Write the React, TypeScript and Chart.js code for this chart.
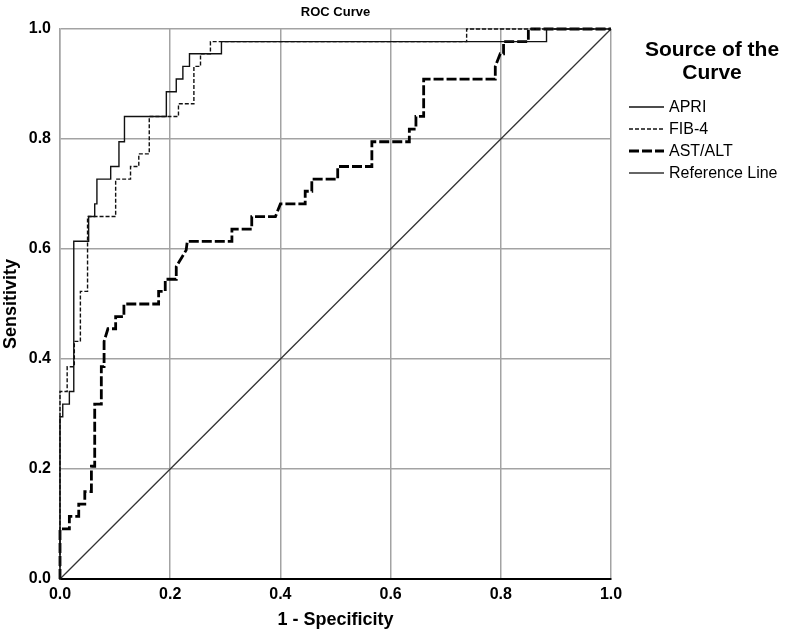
import React, { useEffect, useRef } from "react";
import { Chart, registerables } from "chart.js";

Chart.register(...registerables);

// ROC coordinates (1 - specificity, sensitivity)
const apriFpr = [0, 0, 0.005, 0.005, 0.017, 0.017, 0.025, 0.025, 0.052, 0.052, 0.063, 0.063, 0.067, 0.067, 0.092, 0.092, 0.107, 0.107, 0.117, 0.117, 0.193, 0.193, 0.211, 0.211, 0.223, 0.223, 0.235, 0.235, 0.293, 0.293, 0.883, 0.883, 1];
const apriTpr = [0, 0.295, 0.295, 0.318, 0.318, 0.341, 0.341, 0.614, 0.614, 0.659, 0.659, 0.682, 0.682, 0.727, 0.727, 0.75, 0.75, 0.795, 0.795, 0.841, 0.841, 0.886, 0.886, 0.909, 0.909, 0.932, 0.932, 0.955, 0.955, 0.977, 0.977, 1, 1];

const fib4Fpr = [0, 0, 0.013, 0.013, 0.026, 0.026, 0.037, 0.037, 0.05, 0.05, 0.101, 0.101, 0.128, 0.128, 0.143, 0.143, 0.162, 0.162, 0.215, 0.215, 0.243, 0.243, 0.255, 0.255, 0.273, 0.273, 0.738, 0.738, 1];
const fib4Tpr = [0, 0.341, 0.341, 0.386, 0.386, 0.432, 0.432, 0.523, 0.523, 0.659, 0.659, 0.727, 0.727, 0.75, 0.75, 0.773, 0.773, 0.841, 0.841, 0.864, 0.864, 0.932, 0.932, 0.955, 0.955, 0.977, 0.977, 1, 1];

const astAltFpr = [0, 0, 0.017, 0.017, 0.034, 0.034, 0.045, 0.045, 0.057, 0.057, 0.063, 0.063, 0.075, 0.075, 0.08, 0.08, 0.087, 0.101, 0.101, 0.116, 0.116, 0.179, 0.179, 0.191, 0.191, 0.211, 0.211, 0.229, 0.231, 0.312, 0.312, 0.348, 0.348, 0.391, 0.4, 0.445, 0.445, 0.457, 0.457, 0.504, 0.504, 0.566, 0.566, 0.634, 0.634, 0.646, 0.646, 0.66, 0.66, 0.79, 0.79, 0.799, 0.805, 0.805, 0.85, 0.85, 1];
const astAltTpr = [0, 0.091, 0.091, 0.114, 0.114, 0.136, 0.136, 0.159, 0.159, 0.205, 0.205, 0.318, 0.318, 0.386, 0.386, 0.432, 0.455, 0.455, 0.477, 0.477, 0.5, 0.5, 0.523, 0.523, 0.545, 0.545, 0.568, 0.598, 0.614, 0.614, 0.636, 0.636, 0.659, 0.659, 0.682, 0.682, 0.705, 0.705, 0.727, 0.727, 0.75, 0.75, 0.795, 0.795, 0.818, 0.818, 0.841, 0.841, 0.909, 0.909, 0.932, 0.955, 0.955, 0.977, 0.977, 1, 1];

const refFpr = [0, 1];
const refTpr = [0, 1];

const seriesNames = ["APRI", "FIB-4", "AST/ALT", "Reference Line"];
const axisTicks = [0, 0.2, 0.4, 0.6, 0.8, 1.0];
const chartTitle = "ROC Curve";
const xTitle = "1 - Specificity";
const yTitle = "Sensitivity";
const legendTitle = ["Source of the", "Curve"];

const FONT = "'Liberation Sans', Arial, sans-serif";
const GRID = "#a3a3a3";

const toPoints = (xs: number[], ys: number[]) => xs.map((x, i) => ({ x, y: ys[i] }));

const overlayPlugin = {
  id: "overlay",
  afterDraw(chart: any) {
    const { ctx, chartArea } = chart;
    const midX = (chartArea.left + chartArea.right) / 2;
    ctx.save();
    ctx.fillStyle = "#000";
    ctx.textBaseline = "middle";
    // title
    ctx.textAlign = "center";
    ctx.font = `bold 13px ${FONT}`;
    ctx.fillText(chartTitle, midX, 12);
    // x title
    ctx.font = `bold 18px ${FONT}`;
    ctx.fillText(xTitle, midX, 620);
    // y title
    ctx.save();
    ctx.translate(11, (chartArea.top + chartArea.bottom) / 2);
    ctx.rotate(-Math.PI / 2);
    ctx.fillText(yTitle, 0, 0);
    ctx.restore();
    // legend title
    ctx.font = `bold 21px ${FONT}`;
    ctx.fillText(legendTitle[0], 712, 50);
    ctx.fillText(legendTitle[1], 712, 73);
    // legend items
    ctx.font = `16px ${FONT}`;
    ctx.textAlign = "left";
    chart.data.datasets.forEach((ds: any, i: number) => {
      const y = 107 + i * 22;
      ctx.save();
      ctx.strokeStyle = ds.borderColor;
      ctx.lineWidth = ds.borderWidth;
      ctx.setLineDash(ds.borderDash || []);
      ctx.beginPath();
      ctx.moveTo(629, y);
      ctx.lineTo(664, y);
      ctx.stroke();
      ctx.restore();
      ctx.fillText(ds.label, 669, y + 1);
    });
    ctx.restore();
  },
};

export default function App() {
  const canvasRef = useRef<HTMLCanvasElement | null>(null);

  useEffect(() => {
    if (!canvasRef.current) return;
    const common = { showLine: true, pointRadius: 0, fill: false, tension: 0, clip: 4 };
    const chart = new Chart(canvasRef.current, {
      type: "scatter",
      data: {
        datasets: [
          { ...common, label: seriesNames[0], data: toPoints(apriFpr, apriTpr), borderColor: "#111", borderWidth: 1.4, borderDash: [] },
          { ...common, label: seriesNames[1], data: toPoints(fib4Fpr, fib4Tpr), borderColor: "#111", borderWidth: 1.4, borderDash: [4, 2] },
          { ...common, label: seriesNames[2], data: toPoints(astAltFpr, astAltTpr), borderColor: "#000", borderWidth: 2.8, borderDash: [10, 3] },
          { ...common, label: seriesNames[3], data: toPoints(refFpr, refTpr), borderColor: "#333", borderWidth: 1.3, borderDash: [] },
        ],
      },
      options: {
        responsive: false,
        animation: false,
        devicePixelRatio: 1,
        layout: { padding: { top: 29, right: 186, left: 0, bottom: 0 } },
        plugins: { legend: { display: false }, title: { display: false }, tooltip: { enabled: false } },
        scales: {
          x: {
            type: "linear",
            min: 0,
            max: 1,
            afterFit: (axis: any) => { axis.height = 54; },
            afterBuildTicks: (axis: any) => { axis.ticks = axisTicks.map((v) => ({ value: v })); },
            ticks: { padding: 6, color: "#000", font: { family: FONT, size: 16, weight: "bold" }, callback: (v: any) => Number(v).toFixed(1), maxRotation: 0 },
            grid: { color: GRID, lineWidth: 1.5, drawTicks: false },
            border: { color: "#000", width: 2 },
          },
          y: {
            type: "linear",
            min: 0,
            max: 1,
            afterFit: (axis: any) => { axis.width = 60; },
            afterBuildTicks: (axis: any) => { axis.ticks = axisTicks.map((v) => ({ value: v })); },
            ticks: { padding: 9, color: "#000", font: { family: FONT, size: 16, weight: "bold" }, callback: (v: any) => Number(v).toFixed(1) },
            grid: { color: GRID, lineWidth: 1.5, drawTicks: false },
            border: { color: GRID, width: 1.5 },
          },
        },
      },
      plugins: [overlayPlugin],
    } as any);
    return () => chart.destroy();
  }, []);

  return (
    <div style={{ position: "absolute", left: 0, top: 0, width: 797, height: 633, background: "#fff" }}>
      <canvas ref={canvasRef} width={797} height={633} style={{ display: "block" }} />
    </div>
  );
}
